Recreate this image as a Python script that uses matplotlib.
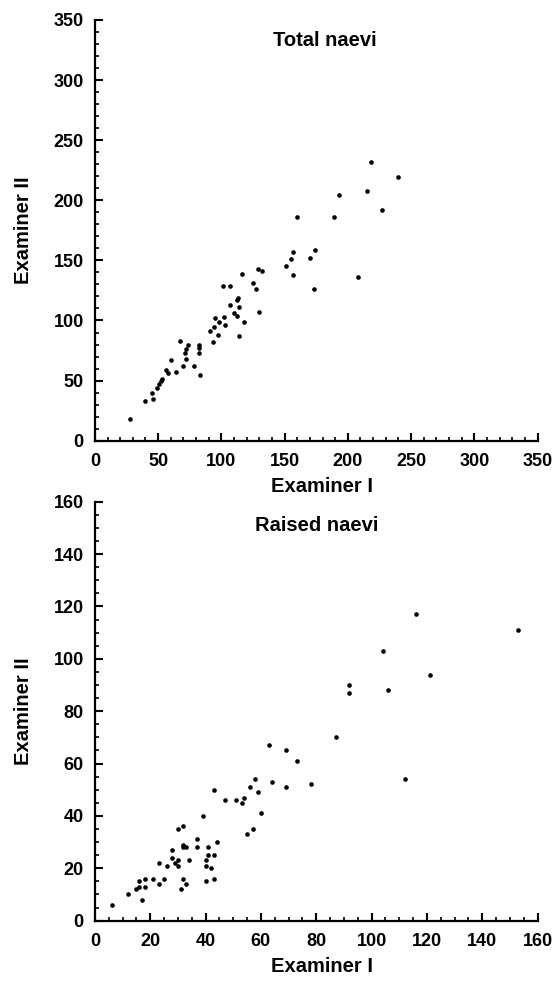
import matplotlib
matplotlib.use('Agg')
from matplotlib import pyplot as plt
from matplotlib.ticker import MultipleLocator

# total naevi, examiner I vs examiner II
total_x = [28, 40, 45, 46, 49, 51, 52, 53, 56, 58, 60, 64, 67, 70, 72, 71, 72, 74,
           78, 82, 82, 82, 83, 91, 93, 94, 95, 97, 98, 101, 102, 103, 107, 107,
           110, 112, 112, 113, 114, 114, 116, 118, 125, 127, 130, 129, 132, 151,
           155, 157, 157, 160, 170, 173, 174, 189, 193, 208, 215, 218, 227, 240]
total_y = [18, 33, 40, 35, 44, 47, 50, 51, 59, 56, 67, 57, 83, 62, 68, 73, 76, 80,
           62, 80, 77, 73, 55, 91, 82, 95, 102, 88, 99, 129, 103, 96, 129, 113,
           106, 104, 117, 119, 111, 87, 139, 99, 131, 126, 107, 143, 141, 145,
           151, 157, 138, 186, 152, 126, 159, 186, 204, 136, 208, 232, 192, 219]

# raised naevi
raised_x = [6, 12, 15, 16, 16, 17, 18, 18, 21, 23, 23, 25, 26, 28, 28, 29, 30, 30,
            30, 31, 32, 32, 32, 32, 33, 33, 34, 37, 37, 39, 40, 40, 40, 41, 41,
            42, 43, 43, 44, 43, 47, 51, 53, 54, 55, 56, 57, 58, 59, 60, 64, 69,
            63, 69, 73, 78, 87, 92, 92, 104, 106, 112, 116, 121, 153]
raised_y = [6, 10, 12, 13, 15, 8, 13, 16, 16, 14, 22, 16, 21, 24, 27, 22, 23, 21,
            35, 12, 36, 16, 29, 28, 28, 14, 23, 31, 28, 40, 23, 21, 15, 28, 25,
            20, 25, 16, 30, 50, 46, 46, 45, 47, 33, 51, 35, 54, 49, 41, 53, 51,
            67, 65, 61, 52, 70, 90, 87, 103, 88, 54, 117, 94, 111]

plt.rcParams['font.family'] = ['Liberation Sans', 'DejaVu Sans']
plt.rcParams['font.weight'] = 'bold'

fig = plt.figure(figsize=(5.55, 9.85), dpi=100)
ax1 = fig.add_axes([0.171, 0.5526, 0.7975, 0.4271])
ax2 = fig.add_axes([0.171, 0.0653, 0.7975, 0.4254])


def style(ax, vmax, major, minor, title, tx, ty):
    ax.set_xlim(0, vmax)
    ax.set_ylim(0, vmax)
    ax.xaxis.set_major_locator(MultipleLocator(major))
    ax.yaxis.set_major_locator(MultipleLocator(major))
    ax.xaxis.set_minor_locator(MultipleLocator(minor))
    ax.yaxis.set_minor_locator(MultipleLocator(minor))
    for s in ['top', 'right']:
        ax.spines[s].set_visible(False)
    for s in ['left', 'bottom']:
        ax.spines[s].set_linewidth(1.6)
    ax.tick_params(which='major', direction='in', length=6, width=1.5,
                   labelsize=13)
    ax.tick_params(which='minor', direction='in', length=3, width=1.2)
    ax.tick_params(axis='x', which='major', pad=9)
    ax.tick_params(axis='y', which='major', pad=8)
    ax.set_xlabel('Examiner I', fontsize=14.5, fontweight='bold')
    ax.set_ylabel('Examiner II', fontsize=14.5, fontweight='bold')
    ax.xaxis.set_label_coords(0.513, -0.087)
    ax.yaxis.set_label_coords(-0.14, 0.5)
    ax.text(tx, ty, title, transform=ax.transAxes, ha='center', va='center',
            fontsize=14.5, fontweight='bold')
    for lab in ax.get_xticklabels() + ax.get_yticklabels():
        lab.set_fontweight('bold')


ax1.scatter(total_x, total_y, s=11, c='black', linewidths=0, clip_on=False)
style(ax1, 350, 50, 10, 'Total naevi', 0.52, 0.952)

ax2.scatter(raised_x, raised_y, s=11, c='black', linewidths=0, clip_on=False)
style(ax2, 160, 20, 5, 'Raised naevi', 0.5, 0.944)

fig.savefig('out.png', dpi=100)
